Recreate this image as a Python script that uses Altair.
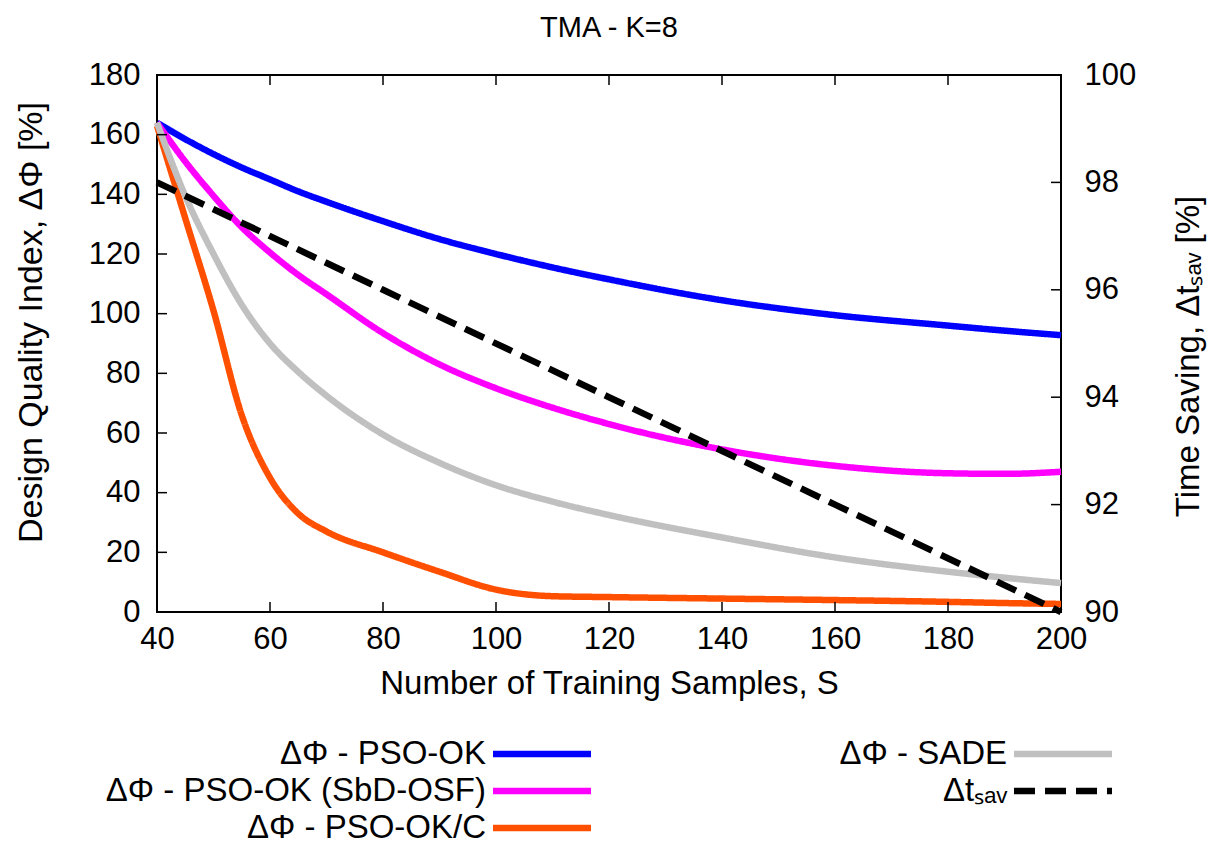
import altair as alt
import pandas as pd

# ---- data ----
S = [40, 45, 50, 55, 60, 65, 70, 80, 90, 100, 110, 120, 140, 160, 180, 190, 200]
pso_ok = [164, 158.5, 153.5, 149, 145, 141, 137.5, 131, 125, 120, 115.5, 111.5, 104.5, 99.5, 96, 94.3, 92.8]
pso_ok_sbd = [164, 151, 139.5, 129, 120.5, 113, 106.5, 93.5, 83, 75, 68.5, 63, 54.5, 49, 46.5, 46.3, 47]
pso_ok_c = [163, 132, 101, 66, 45, 33, 27, 20, 13.5, 7.5, 5.3, 5, 4.5, 4, 3.4, 3.0, 2.7]
sade = [164, 139.5, 120, 103, 90, 80.5, 72.5, 59.5, 50, 42.5, 37, 32.5, 25, 18.3, 13.5, 11.5, 9.7]
S_t = [40, 80, 120, 160, 200]
t_sav = [98, 96, 94, 92, 90]

N_OK = "ΔΦ - PSO-OK"
N_SBD = "ΔΦ - PSO-OK (SbD-OSF)"
N_C = "ΔΦ - PSO-OK/C"
N_SADE = "ΔΦ - SADE"
N_T = "Δtₛₐᵥ"

x_ticks = [40, 60, 80, 100, 120, 140, 160, 180, 200]
yl_ticks = [0, 20, 40, 60, 80, 100, 120, 140, 160, 180]
yr_ticks = [90, 92, 94, 96, 98, 100]

# legend order (column-major fill of a 2-column legend)
order = [N_OK, N_SBD, N_C, N_SADE, N_T]
colors = ["#0000ff", "#ff00ff", "#ff4f00", "#c0c0c0", "#000000"]
dashes = [[1, 0], [1, 0], [1, 0], [1, 0], [21, 10]]

rows = []
for name, vals in [(N_OK, pso_ok), (N_SBD, pso_ok_sbd), (N_C, pso_ok_c), (N_SADE, sade)]:
    for s, v in zip(S, vals):
        rows.append({"series": name, "S": s, "value": v})
df_left = pd.DataFrame(rows)
df_right = pd.DataFrame({"series": N_T, "S": S_t, "value": t_sav})

W, H = 904, 537
FONT = "Liberation Sans"
LW = 6.5

x_scale = alt.Scale(domain=[40, 200], nice=False, zero=False)
yl_scale = alt.Scale(domain=[0, 180], nice=False)
yr_scale = alt.Scale(domain=[90, 100], nice=False, zero=False)

x_axis = alt.Axis(values=x_ticks, ticks=False, domain=False, grid=False, labelFlush=False,
                  labelFontSize=31, labelPadding=12, labelColor="black",
                  title="Number of Training Samples, S", titleFontSize=33,
                  titleFontWeight="normal", titleColor="black", titlePadding=13)
yl_axis = alt.Axis(values=yl_ticks, ticks=False, domain=False, grid=False, labelFlush=False,
                   labelFontSize=31, labelPadding=17, labelColor="black",
                   title="Design Quality Index, ΔΦ [%]", titleFontSize=34,
                   titleFontWeight="normal", titleColor="black",
                   titleAngle=270, titleX=-116, titleY=247,
                   titleBaseline="alphabetic", titleAlign="center")
yr_axis = alt.Axis(orient="right", values=yr_ticks, ticks=False, domain=False, grid=False,
                   labelFlush=False,
                   labelFontSize=31, labelPadding=23, labelColor="black",
                   title="Time Saving, Δtₛₐᵥ [%]", titleFontSize=33,
                   titleFontWeight="normal", titleColor="black",
                   titleAngle=270, titleX=137, titleY=281,
                   titleBaseline="alphabetic", titleAlign="center")

legend = alt.Legend(orient="none", legendX=365, legendY=659, columns=2,
                    symbolType="M-3,0L3,0", symbolSize=1067, symbolStrokeWidth=LW,
                    labelFontSize=33, labelAlign="right", labelOffset={"expr": "-76"},
                    labelLimit=0, columnPadding=235, rowPadding=0,
                    labelColor="black", title=None)

color = alt.Color("series:N", scale=alt.Scale(domain=order, range=colors), legend=legend)
dash = alt.StrokeDash("series:N", scale=alt.Scale(domain=order, range=dashes), legend=legend)

X = alt.X("S:Q", scale=x_scale, axis=x_axis)

lines_left = alt.Chart(df_left).mark_line(strokeWidth=LW, interpolate="monotone").encode(
    x=X,
    y=alt.Y("value:Q", scale=yl_scale, axis=yl_axis),
    color=color,
    strokeDash=dash,
)

df_xt = pd.DataFrame({"S": x_ticks[1:-1]})
xt_bottom = alt.Chart(df_xt).mark_rule(color="black", strokeWidth=1.5).encode(
    x=X, y=alt.value(H), y2=alt.value(H - 10))
xt_top = alt.Chart(df_xt).mark_rule(color="black", strokeWidth=1.5).encode(
    x=X, y=alt.value(0), y2=alt.value(10))

df_ylt = pd.DataFrame({"value": yl_ticks[1:-1]})
yt_left = alt.Chart(df_ylt).mark_rule(color="black", strokeWidth=1.5).encode(
    y=alt.Y("value:Q", scale=yl_scale, axis=yl_axis), x=alt.value(0), x2=alt.value(10))

left = alt.layer(lines_left, xt_bottom, xt_top, yt_left)

line_right = alt.Chart(df_right).mark_line(strokeWidth=LW).encode(
    x=X,
    y=alt.Y("value:Q", scale=yr_scale, axis=yr_axis),
    color=color,
    strokeDash=dash,
)
df_yrt = pd.DataFrame({"value": yr_ticks[1:-1]})
yt_right = alt.Chart(df_yrt).mark_rule(color="black", strokeWidth=1.5).encode(
    y=alt.Y("value:Q", scale=yr_scale, axis=yr_axis), x=alt.value(W), x2=alt.value(W - 10))

right = alt.layer(line_right, yt_right)

chart = alt.layer(left, right).resolve_scale(y="independent").properties(
    width=W, height=H,
    title=alt.TitleParams("TMA - K=8", fontSize=29, fontWeight="normal", color="black",
                          anchor="middle", frame="group", offset=16),
    autosize=alt.AutoSizeParams(type="none"),
    padding={"left": 149, "top": 67, "right": 150, "bottom": 238},
).configure(font=FONT).configure_view(stroke="black", strokeWidth=2)

chart.save("out.html", embed_options={"renderer": "svg", "actions": False})
